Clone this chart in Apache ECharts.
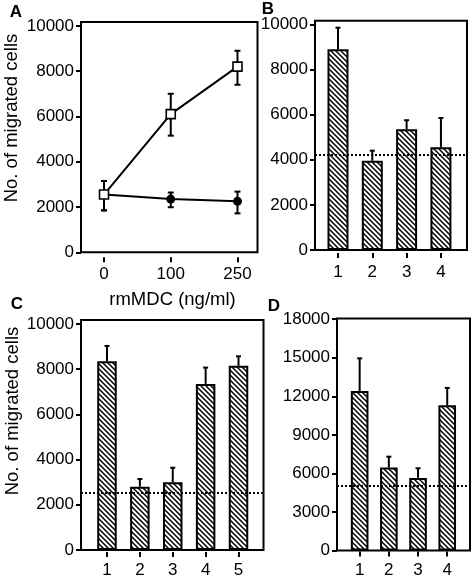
<!DOCTYPE html>
<html><head><meta charset="utf-8">
<script src="https://cdn.jsdelivr.net/npm/echarts@6/dist/echarts.min.js"></script>
<style>html,body{margin:0;padding:0;background:#fff}#c{width:475px;height:583px}</style>
</head><body><div id="c"></div>
<script>
// ---- Data ----
const doseLabels = ['0', '100', '250'];
const mdcMean = [2550, 6100, 8200];
const mdcLow = [1850, 5150, 7400];
const mdcHigh = [3150, 7000, 8900];
const ctrlMean = [2550, 2350, 2250];
const ctrlLow = [1850, 1990, 1720];
const ctrlHigh = [3150, 2640, 2680];

const bCats = ['1', '2', '3', '4'];
const bMean = [8900, 3950, 5350, 4550];
const bErr = [9850, 4400, 5750, 5850];
const bBase = 4200;

const cCats = ['1', '2', '3', '4', '5'];
const cMean = [8350, 2800, 3000, 7350, 8150];
const cErr = [9030, 3140, 3640, 8070, 8570];
const cBase = 2550;

const dCats = ['1', '2', '3', '4'];
const dMean = [12400, 6450, 5650, 11300];
const dErr = [14950, 7300, 6400, 12650];
const dBase = 5000;

const yTicks10k = [0, 2000, 4000, 6000, 8000, 10000];
const yTicks18k = [0, 3000, 6000, 9000, 12000, 15000, 18000];

const yTitle = 'No. of migrated cells';
const xTitleA = 'rmMDC (ng/ml)';
const panelLetters = ['A', 'B', 'C', 'D'];

// ---- Styling helpers ----
const FONT = '"Liberation Sans", Arial, Helvetica, sans-serif';

function hatch() {
  const s = 5, c = document.createElement('canvas');
  c.width = s; c.height = s;
  const g = c.getContext('2d');
  g.fillStyle = '#fff'; g.fillRect(0, 0, s, s);
  g.strokeStyle = '#000'; g.lineWidth = 1.5;
  g.beginPath();
  g.moveTo(-1, -1); g.lineTo(s + 1, s + 1);
  g.moveTo(-1, s - 1); g.lineTo(1, s + 1);
  g.moveTo(s - 1, -1); g.lineTo(s + 1, 1);
  g.stroke();
  return c;
}
const pattern = { image: hatch(), repeat: 'repeat' };

function yAxis(gi, max, ticks) {
  return {
    type: 'value', gridIndex: gi, min: 0, max: max, position: 'left',
    splitLine: { show: false }, axisLine: { show: false, onZero: false },
    axisTick: { show: true, length: 5, inside: false, customValues: ticks, lineStyle: { color: '#000', width: 2 } },
    axisLabel: { customValues: ticks, formatter: v => String(v), margin: 7, color: '#000', fontSize: 17, fontFamily: FONT }
  };
}
function xAxis(gi, min, max, vals, fmt, offset, margin) {
  return {
    type: 'value', gridIndex: gi, min: min, max: max, offset: offset, position: 'bottom',
    splitLine: { show: false }, axisLine: { show: false, onZero: false },
    axisTick: { show: true, length: 5, customValues: vals, lineStyle: { color: '#000', width: 2 } },
    axisLabel: { customValues: vals, formatter: fmt, margin: margin, color: '#000', fontSize: 17, fontFamily: FONT }
  };
}

function errRange(idx, data, cap) {
  return {
    type: 'custom', xAxisIndex: idx, yAxisIndex: idx, z: 5, silent: true,
    data: data,
    encode: { x: 0, y: [1, 2] },
    renderItem: function (params, api) {
      const x = api.value(0);
      const p0 = api.coord([x, api.value(1)]);
      const p1 = api.coord([x, api.value(2)]);
      const st = { stroke: '#000', lineWidth: 2 };
      return {
        type: 'group', children: [
          { type: 'line', shape: { x1: p0[0], y1: p0[1], x2: p1[0], y2: p1[1] }, style: st },
          { type: 'line', shape: { x1: p0[0] - cap, y1: p0[1], x2: p0[0] + cap, y2: p0[1] }, style: st },
          { type: 'line', shape: { x1: p1[0] - cap, y1: p1[1], x2: p1[0] + cap, y2: p1[1] }, style: st }
        ]
      };
    }
  };
}
function errUp(idx, means, tops, cap) {
  return {
    type: 'custom', xAxisIndex: idx, yAxisIndex: idx, z: 1, silent: true,
    data: means.map((m, i) => [i + 1, m, tops[i]]),
    encode: { x: 0, y: [1, 2] },
    renderItem: function (params, api) {
      const x = api.value(0);
      const p0 = api.coord([x, api.value(1)]);
      const p1 = api.coord([x, api.value(2)]);
      const st = { stroke: '#000', lineWidth: 2 };
      return {
        type: 'group', children: [
          { type: 'line', shape: { x1: p0[0], y1: p0[1], x2: p1[0], y2: p1[1] }, style: st },
          { type: 'line', shape: { x1: p1[0] - cap, y1: p1[1], x2: p1[0] + cap, y2: p1[1] }, style: st }
        ]
      };
    }
  };
}
function bars(idx, means, width, base) {
  return {
    type: 'bar', xAxisIndex: idx, yAxisIndex: idx, z: 3, barWidth: width, silent: true,
    data: means.map((m, i) => [i + 1, m]),
    itemStyle: { color: pattern, borderColor: '#000', borderWidth: 2 },
    markLine: {
      silent: true, symbol: 'none', label: { show: false }, z: 6,
      lineStyle: { type: [2, 2], color: '#000', width: 2 },
      emphasis: { disabled: true },
      data: [{ yAxis: base }]
    }
  };
}

const gridStyle = { show: true, borderColor: '#000', borderWidth: 2, containLabel: false };

const option = {
  animation: false,
  backgroundColor: '#fff',
  grid: [
    Object.assign({ left: 81, top: 22, width: 176.5, height: 230.3 }, gridStyle),
    Object.assign({ left: 315, top: 20.7, width: 152, height: 229.3 }, gridStyle),
    Object.assign({ left: 81, top: 320, width: 182.5, height: 230 }, gridStyle),
    Object.assign({ left: 337, top: 318.5, width: 133, height: 232 }, gridStyle)
  ],
  xAxis: [
    xAxis(0, -0.345, 2.30, [0, 1, 2], v => doseLabels[Math.round(v)], 5, 9),
    xAxis(1, 0.33, 4.76, [1, 2, 3, 4], v => bCats[Math.round(v) - 1], 3, 11),
    xAxis(2, 0.21, 5.76, [1, 2, 3, 4, 5], v => cCats[Math.round(v) - 1], 2, 10),
    xAxis(3, 0.224, 4.78, [1, 2, 3, 4], v => dCats[Math.round(v) - 1], 1, 10)
  ],
  yAxis: [
    yAxis(0, 10170, yTicks10k),
    yAxis(1, 10160, yTicks10k),
    yAxis(2, 10177, yTicks10k),
    yAxis(3, 18050, yTicks18k)
  ],
  series: [
    errRange(0, ctrlMean.map((m, i) => [i, ctrlLow[i], ctrlHigh[i]]), 3),
    errRange(0, mdcMean.map((m, i) => [i, mdcLow[i], mdcHigh[i]]), 3),
    {
      type: 'line', xAxisIndex: 0, yAxisIndex: 0, z: 7, silent: true,
      data: ctrlMean.map((m, i) => [i, m]),
      symbol: 'circle', symbolSize: 9,
      lineStyle: { color: '#000', width: 2 },
      itemStyle: { color: '#000', borderColor: '#000', borderWidth: 0 }
    },
    {
      type: 'line', xAxisIndex: 0, yAxisIndex: 0, z: 8, silent: true,
      data: mdcMean.map((m, i) => [i, m]),
      symbol: 'rect', symbolSize: 9,
      lineStyle: { color: '#000', width: 2 },
      itemStyle: { color: '#fff', borderColor: '#000', borderWidth: 1.6 }
    },
    errUp(1, bMean, bErr, 2.5),
    bars(1, bMean, 21, bBase),
    errUp(2, cMean, cErr, 2.5),
    bars(2, cMean, 19.5, cBase),
    errUp(3, dMean, dErr, 2.5),
    bars(3, dMean, 17.6, dBase)
  ],
  graphic: [
    { type: 'text', x: 16, y: 12.5, style: { text: panelLetters[0], font: 'bold 17px ' + FONT, fill: '#000', align: 'center', verticalAlign: 'middle' } },
    { type: 'text', x: 268, y: 9.5, style: { text: panelLetters[1], font: 'bold 17px ' + FONT, fill: '#000', align: 'center', verticalAlign: 'middle' } },
    { type: 'text', x: 17, y: 304, style: { text: panelLetters[2], font: 'bold 17px ' + FONT, fill: '#000', align: 'center', verticalAlign: 'middle' } },
    { type: 'text', x: 274, y: 306, style: { text: panelLetters[3], font: 'bold 17px ' + FONT, fill: '#000', align: 'center', verticalAlign: 'middle' } },
    { type: 'text', x: 11.5, y: 118, rotation: Math.PI / 2, style: { text: yTitle, font: '18.5px ' + FONT, fill: '#000', align: 'center', verticalAlign: 'middle' } },
    { type: 'text', x: 13, y: 411, rotation: Math.PI / 2, style: { text: yTitle, font: '18.5px ' + FONT, fill: '#000', align: 'center', verticalAlign: 'middle' } },
    { type: 'text', x: 172.5, y: 300, style: { text: xTitleA, font: '18.5px ' + FONT, fill: '#000', align: 'center', verticalAlign: 'middle' } }
  ]
};

const chart = echarts.init(document.getElementById('c'), null, { renderer: 'canvas' });
chart.setOption(option);
</script>
</body></html>
